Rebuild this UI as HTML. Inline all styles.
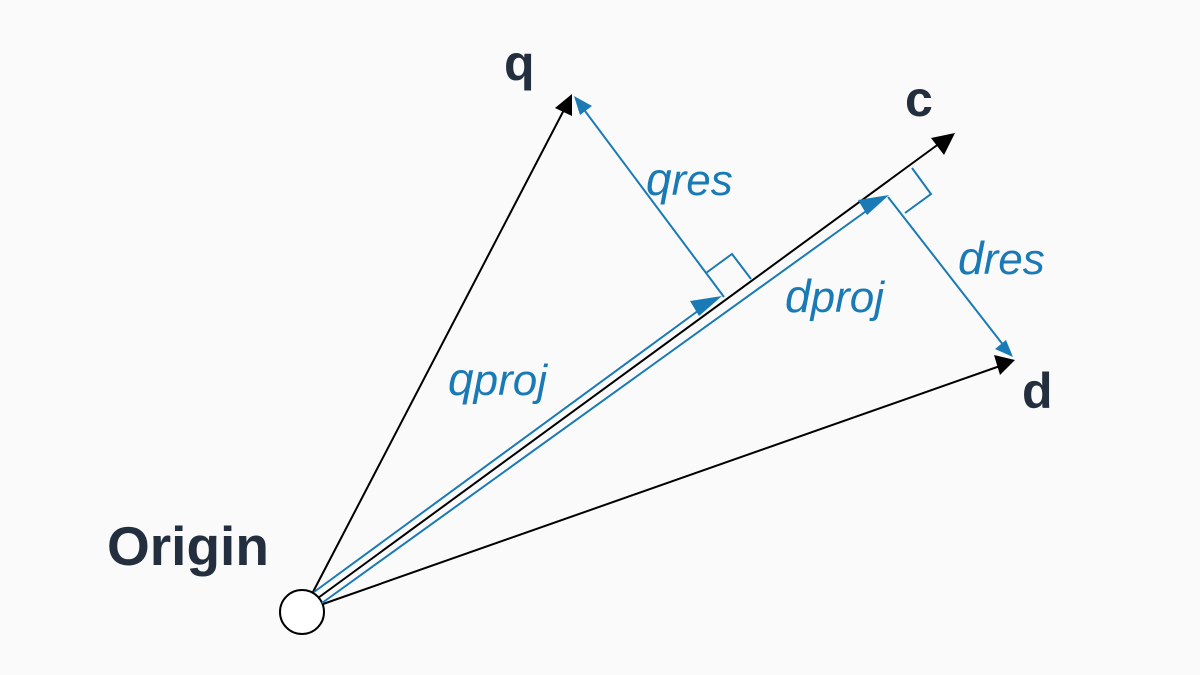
<!DOCTYPE html>
<html><head><meta charset="utf-8"><style>
html,body{margin:0;padding:0;background:#fafafa;}
svg{display:block;}
.lb{font-family:"Liberation Sans",sans-serif;font-weight:bold;fill:#232f3e;}
.bl{font-family:"Liberation Sans",sans-serif;font-style:italic;fill:#1a7ab5;font-size:46px;}
</style></head><body>
<svg width="1200" height="675" viewBox="0 0 1200 675" xmlns="http://www.w3.org/2000/svg">
<rect width="1200" height="675" fill="#fafafa"/>
<g stroke="#000" stroke-width="2" fill="none">
<circle cx="302" cy="612" r="22" fill="#fff"/>
<line x1="313" y1="592" x2="566" y2="106"/>
<line x1="318" y1="598" x2="940" y2="143"/>
<line x1="323" y1="604" x2="1000" y2="366"/>
</g>
<g fill="#000">
<polygon points="572,94 572,116 555,108"/>
<polygon points="955,133 944,155 931,138"/>
<polygon points="1015,360 1000,375 994,355"/>
</g>
<g stroke="#1a7ab5" stroke-width="2" fill="none">
<line x1="314" y1="592" x2="706" y2="305"/>
<line x1="322" y1="603" x2="876" y2="204"/>
<line x1="724" y1="297" x2="585" y2="111"/>
<line x1="888" y1="197" x2="1004" y2="346"/>
<polyline points="706,273 732,254 751,279"/>
<polyline points="905,213 931,194 912,168"/>
</g>
<g fill="#1a7ab5">
<polygon points="722,296 699,316 690,301"/>
<polygon points="889,195 867,215 858,200"/>
<polygon points="574,96 592,106 580,115"/>
<polygon points="1013,357 995,349 1006,340"/>
</g>
<text class="lb" x="504" y="80" font-size="50">q</text>
<text class="lb" x="905" y="116" font-size="50">c</text>
<text class="lb" x="1022" y="408" font-size="50">d</text>
<text class="lb" x="107" y="565" font-size="55">Origin</text>
<text class="bl" x="646" y="195">q<tspan font-size="44">res</tspan></text>
<text class="bl" x="958" y="274">d<tspan font-size="44">res</tspan></text>
<text class="bl" x="785" y="312">d<tspan font-size="44">proj</tspan></text>
<text class="bl" x="448" y="395">q<tspan font-size="44">proj</tspan></text>
</svg>
</body></html>
